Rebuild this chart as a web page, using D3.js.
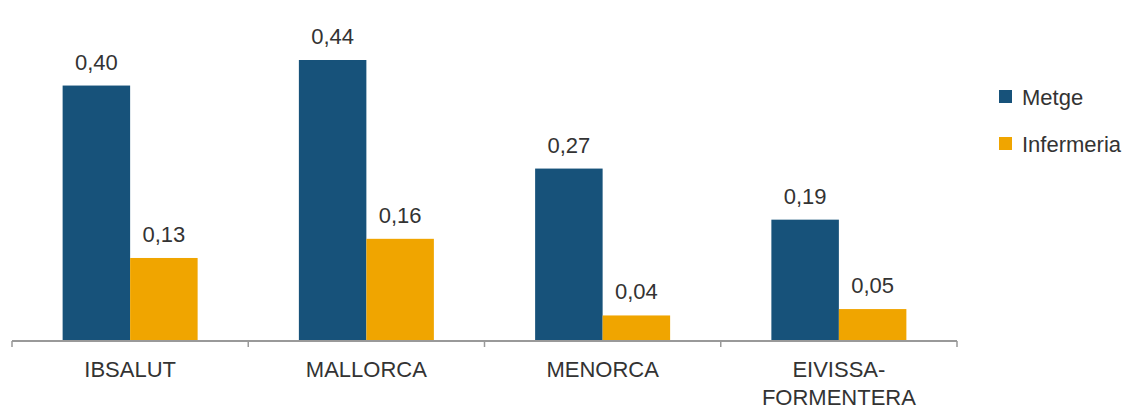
<!DOCTYPE html>
<html>
<head>
<meta charset="utf-8">
<script src="https://cdn.jsdelivr.net/npm/d3@7/dist/d3.min.js"></script>
<style>
  html, body { margin: 0; padding: 0; background: #fff; }
  text { font-family: "Liberation Sans", Arial, sans-serif; fill: #333; }
</style>
</head>
<body>
<svg id="chart" width="1131" height="410"></svg>
<script>
const categories = ["IBSALUT", "MALLORCA", "MENORCA", "EIVISSA-\nFORMENTERA"];
const seriesNames = ["Metge", "Infermeria"];
const metge = [0.40, 0.44, 0.27, 0.19];
const infermeria = [0.13, 0.16, 0.04, 0.05];
const colors = ["#17527a", "#f0a500"];

const svg = d3.select("#chart");
const baseY = 341;
const x0 = d3.scaleBand().domain(categories).range([12, 957]).paddingInner(0).paddingOuter(0);
const x1 = d3.scaleBand().domain(seriesNames).range([0, x0.bandwidth()]).paddingInner(0).paddingOuter(0.75);
const y = d3.scaleLinear().domain([0, 0.44]).range([baseY, 60]);
const color = d3.scaleOrdinal().domain(seriesNames).range(colors);
const fmt = v => d3.format(".2f")(v).replace(".", ",");

const rows = categories.map((c, i) => ({ cat: c, vals: [
  { s: seriesNames[0], v: metge[i] },
  { s: seriesNames[1], v: infermeria[i] }
]}));

const groups = svg.append("g").selectAll("g").data(rows).join("g")
  .attr("transform", d => `translate(${x0(d.cat)},0)`);

groups.selectAll("rect").data(d => d.vals).join("rect")
  .attr("x", d => x1(d.s))
  .attr("y", d => y(d.v))
  .attr("width", x1.bandwidth())
  .attr("height", d => baseY - y(d.v))
  .attr("fill", d => color(d.s));

groups.selectAll("text.val").data(d => d.vals).join("text")
  .attr("class", "val")
  .attr("x", d => x1(d.s) + x1.bandwidth() / 2)
  .attr("y", d => y(d.v) - 16)
  .attr("text-anchor", "middle")
  .style("font-size", "22px")
  .text(d => fmt(d.v));

// x axis
const axis = d3.axisBottom(x0).tickSize(0).tickFormat("");
const axG = svg.append("g").attr("transform", `translate(0,${baseY})`).call(axis);
axG.select(".domain").attr("stroke", "#999").attr("stroke-width", 2).attr("d", `M12,0H957`);
const bounds = categories.map(c => x0(c)).concat([x0(categories[categories.length - 1]) + x0.bandwidth()]);
axG.selectAll("line.sep").data(bounds).join("line").attr("class", "sep")
  .attr("x1", d => d).attr("x2", d => d).attr("y1", 0).attr("y2", 6)
  .attr("stroke", "#999").attr("stroke-width", 1.5);

const catLabels = svg.append("g").selectAll("text").data(categories).join("text")
  .attr("x", d => x0(d) + x0.bandwidth() / 2)
  .attr("y", baseY + 36)
  .attr("text-anchor", "middle")
  .style("font-size", "22px");
catLabels.each(function(d) {
  const lines = d.split("\n");
  d3.select(this).selectAll("tspan").data(lines).join("tspan")
    .attr("x", x0(d) + x0.bandwidth() / 2)
    .attr("dy", (l, i) => i === 0 ? 0 : 28)
    .text(l => l);
});

// legend
const legend = svg.append("g").selectAll("g").data(seriesNames).join("g")
  .attr("transform", (d, i) => `translate(999,${90 + i * 47})`);
legend.append("rect").attr("width", 13).attr("height", 13).attr("fill", d => color(d));
legend.append("text").attr("x", 23).attr("y", 7).attr("dominant-baseline", "central")
  .style("font-size", "22px").text(d => d);
</script>
</body>
</html>
